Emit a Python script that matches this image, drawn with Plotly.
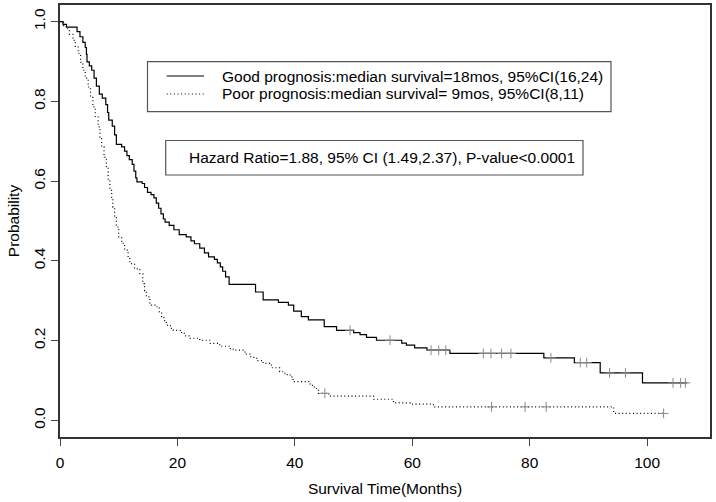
import numpy as np
import plotly.graph_objects as go

# ---------------- data ----------------
good_time = [0, 0.5, 1.1, 2.9, 3.4, 3.9, 4.3, 4.5, 4.6, 5.0, 5.4, 5.8, 6.2, 6.7, 7.2, 7.8,
             8.1, 8.3, 8.9, 9.3, 9.6, 10.5, 11.0, 11.4, 11.8, 12.3, 12.6, 12.9, 13.1, 14.0,
             14.4, 14.9, 15.5, 16.0, 16.4, 16.8, 17.2, 17.6, 17.9, 18.6, 19.4, 20.3, 21.5,
             22.3, 22.9, 23.8, 24.6, 25.3, 26.3, 26.8, 27.3, 27.7, 28.2, 28.8, 33.3, 34.6,
             37.2, 38.9, 39.8, 41.1, 42.3, 45.0, 47.1, 50.0, 51.1, 52.2, 53.9, 58.2, 59.0,
             60.4, 62.5, 66.4, 82.4, 87.6, 92.0, 99.2]
good_surv = [1.0, 0.993, 0.986, 0.975, 0.962, 0.948, 0.935, 0.918, 0.899, 0.889, 0.878, 0.858,
             0.838, 0.818, 0.808, 0.792, 0.772, 0.753, 0.738, 0.716, 0.692, 0.686, 0.675, 0.664,
             0.654, 0.642, 0.625, 0.608, 0.598, 0.594, 0.584, 0.572, 0.566, 0.558, 0.545, 0.532,
             0.518, 0.505, 0.497, 0.489, 0.478, 0.466, 0.460, 0.450, 0.443, 0.432, 0.420, 0.410,
             0.404, 0.395, 0.385, 0.374, 0.360, 0.341, 0.322, 0.302, 0.296, 0.289, 0.274, 0.260,
             0.252, 0.235, 0.226, 0.220, 0.215, 0.208, 0.201, 0.194, 0.189, 0.182, 0.176, 0.168,
             0.157, 0.145, 0.119, 0.094]
good_end = 106.8
good_censor = [49.4, 56.2, 63.2, 64.5, 65.7, 72.1, 73.4, 75.2, 76.8, 83.6, 88.6, 89.7,
               93.6, 96.3, 104.4, 105.7, 106.5]

poor_time = [0, 0.6, 1.1, 1.6, 2.2, 2.6, 3.1, 3.5, 3.9, 4.3, 4.8, 5.2, 5.6, 6.0, 6.5, 6.8,
             7.1, 7.5, 7.9, 8.2, 8.5, 8.8, 9.0, 9.3, 9.6, 10.0, 10.5, 11.0, 11.6, 11.9, 12.7,
             13.6, 14.1, 14.4, 14.7, 15.3, 16.4, 16.9, 17.3, 17.7, 18.1, 18.8, 19.3, 20.7,
             21.4, 22.1, 23.8, 25.5, 27.2, 28.9, 29.5, 31.5, 32.5, 33.5, 34.6, 36.0, 37.4,
             38.3, 39.2, 39.7, 42.6, 43.3, 44.0, 45.8, 53.4, 56.8, 59.6, 63.6, 94.3]
poor_surv = [1.0, 0.99, 0.982, 0.968, 0.953, 0.938, 0.92, 0.898, 0.878, 0.858, 0.836, 0.81,
             0.786, 0.762, 0.736, 0.71, 0.686, 0.66, 0.636, 0.605, 0.577, 0.555, 0.535, 0.51,
             0.485, 0.46, 0.444, 0.427, 0.406, 0.393, 0.38, 0.368, 0.343, 0.325, 0.31, 0.289,
             0.285, 0.272, 0.26, 0.25, 0.239, 0.231, 0.226, 0.218, 0.212, 0.206, 0.201, 0.193,
             0.186, 0.18, 0.176, 0.166, 0.158, 0.15, 0.143, 0.132, 0.122, 0.115, 0.109, 0.097,
             0.088, 0.08, 0.068, 0.061, 0.053, 0.044, 0.041, 0.034, 0.0175]
poor_end = 102.8
poor_censor = [45.1, 73.5, 79.2, 82.8, 102.8]

x_ticks = [0, 20, 40, 60, 80, 100]
y_ticks = [0.0, 0.2, 0.4, 0.6, 0.8, 1.0]
legend_labels = ["Good prognosis:median survival=18mos, 95%CI(16,24)",
                 "Poor prognosis:median survival= 9mos, 95%CI(8,11)"]
hr_text = "Hazard Ratio=1.88, 95% CI (1.49,2.37), P-value<0.0001"
x_title = "Survival Time(Months)"
y_title = "Probability"

# ---------------- helpers ----------------
def surv_at(times, survs, t):
    idx = np.searchsorted(np.asarray(times), np.asarray(t), side="right") - 1
    return np.asarray(survs)[idx]

FONT = "Liberation Sans, Arial, Helvetica, sans-serif"
FS = 15.5
W, H = 716, 502
ML, MR, MT, MB = 60, 6, 5, 65
PW, PH = W - ML - MR, H - MT - MB


def px(x):
    return (x - ML) / PW


def py(y):
    return (H - MB - y) / PH


fig = go.Figure()

series = [
    (good_time, good_surv, good_end, good_censor, dict(color="black", width=1.2)),
    (poor_time, poor_surv, poor_end, poor_censor, dict(color="black", width=1.2, dash="1px,2.6px")),
]
for times, survs, t_end, cens, line in series:
    xs = list(times) + [t_end]
    ys = list(survs) + [survs[-1]]
    fig.add_trace(go.Scatter(x=xs, y=ys, mode="lines", line=line, line_shape="hv",
                             showlegend=False, hoverinfo="skip"))
    fig.add_trace(go.Scatter(x=cens, y=surv_at(times, survs, cens), mode="markers",
                             marker=dict(symbol="cross-thin", size=7,
                                         line=dict(color="#8a8a8a", width=1)),
                             showlegend=False, hoverinfo="skip"))

# legend box (drawn like R's legend)
box_col = "#555555"
fig.add_shape(type="rect", xref="paper", yref="paper", x0=px(147.5), x1=px(611),
              y0=py(111.7), y1=py(61.7), line=dict(color=box_col, width=1.2))
fig.add_shape(type="line", xref="paper", yref="paper", x0=px(166.7), x1=px(204),
              y0=py(76), y1=py(76), line=dict(color="black", width=1.2))
fig.add_shape(type="line", xref="paper", yref="paper", x0=px(166.7), x1=px(204),
              y0=py(94), y1=py(94), line=dict(color="black", width=1.2, dash="1px,2.6px"))
for lab, yy in zip(legend_labels, [76, 94]):
    fig.add_annotation(text=lab, xref="paper", yref="paper", x=px(220), y=py(yy),
                       xanchor="left", yanchor="middle", showarrow=False,
                       font=dict(family=FONT, size=FS, color="black"))

fig.add_shape(type="rect", xref="paper", yref="paper", x0=px(165.7), x1=px(583),
              y0=py(175), y1=py(140.5), line=dict(color=box_col, width=1.2))
fig.add_annotation(text=hr_text, xref="paper", yref="paper", x=px(187), y=py(157.5),
                   xanchor="left", yanchor="middle", showarrow=False,
                   font=dict(family=FONT, size=FS, color="black"))

axis_common = dict(showline=True, mirror=True, linecolor="#333333", linewidth=1.5,
                   ticks="outside", ticklen=7, tickwidth=1, tickcolor="#444444",
                   showgrid=False, zeroline=False, automargin=False,
                   tickfont=dict(family=FONT, size=FS, color="black"))

fig.update_layout(
    width=W, height=H,
    margin=dict(l=ML, r=MR, t=MT, b=MB),
    paper_bgcolor="white", plot_bgcolor="white",
    xaxis=dict(range=[0, 110.7], tickvals=x_ticks, ticktext=[str(v) for v in x_ticks],
               ticklabelstandoff=4,
               title=dict(text=x_title, font=dict(family=FONT, size=FS, color="black"), standoff=13),
               **axis_common),
    yaxis=dict(range=[-0.0416, 1.0416], tickvals=y_ticks, ticktext=[f"{v:.1f}" for v in y_ticks],
               tickangle=-90,
               title=dict(text=y_title, font=dict(family=FONT, size=FS, color="black"), standoff=8),
               **axis_common),
)

fig.write_html("out.html", config={"displayModeBar": False},
               post_script="document.body.style.margin='0px';")
